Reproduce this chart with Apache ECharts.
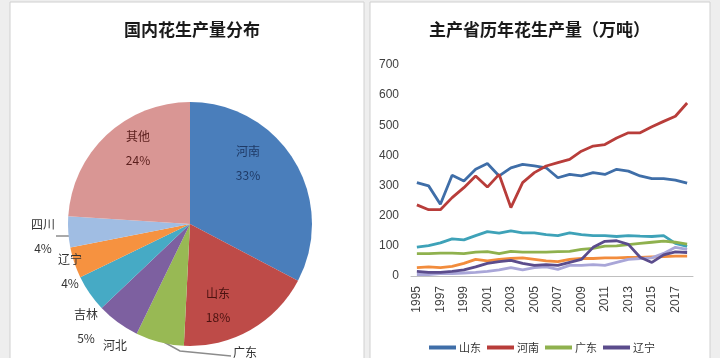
<!DOCTYPE html>
<html>
<head>
<meta charset="utf-8">
<script src="https://cdn.jsdelivr.net/npm/echarts@6/dist/echarts.min.js"></script>
<style>
  html, body { margin: 0; padding: 0; background: #eeeeee; }
  #main { width: 720px; height: 358px; }
</style>
</head>
<body>
<div id="main"></div>
<script>
// 国内花生产量分布（饼图）
const pieNames  = ['河南', '山东', '广东', '河北', '吉林', '辽宁', '四川', '其他'];
const pieValues = [32.7, 18.1, 6.4, 5.7, 4.9, 4.1, 4.1, 24.0];
const pieColors = ['#4a7ebb', '#be4b48', '#98b954', '#7d60a0', '#46aac5', '#f69240', '#a0bde3', '#d99694'];

// 主产省历年花生产量（万吨）
const years = ['1995', '1996', '1997', '1998', '1999', '2000', '2001', '2002', '2003', '2004', '2005', '2006',
               '2007', '2008', '2009', '2010', '2011', '2012', '2013', '2014', '2015', '2016', '2017', '2018'];
const shandong = [310, 299, 238, 334, 315, 354, 373, 332, 359, 370, 365, 359, 326, 337, 332, 343, 337, 354, 348, 332, 323, 323, 318, 308];
const henan    = [236, 220, 220, 260, 293, 332, 295, 337, 227, 310, 343, 365, 376, 387, 414, 431, 436, 458, 475, 475, 495, 513, 530, 574];
const guangdong = [74, 74, 76, 76, 74, 79, 81, 74, 82, 79, 79, 79, 81, 82, 88, 92, 99, 100, 104, 108, 112, 116, 112, 106];
const liaoning = [15, 12, 12, 15, 20, 30, 42, 48, 52, 42, 35, 38, 35, 45, 55, 95, 115, 117, 105, 62, 45, 70, 80, 78];
const hebei    = [96, 101, 110, 123, 120, 134, 147, 142, 150, 143, 143, 137, 134, 143, 137, 134, 134, 131, 134, 132, 131, 134, 108, 98];
const sichuan  = [28, 30, 28, 32, 42, 55, 50, 55, 58, 60, 55, 50, 48, 55, 58, 58, 60, 60, 62, 62, 63, 64, 66, 66];
const jilin    = [5, 5, 8, 8, 10, 12, 15, 20, 28, 20, 28, 30, 22, 35, 35, 38, 35, 45, 55, 58, 60, 75, 95, 88];
const legendNames = ['山东', '河南', '广东', '辽宁'];

const cjk = '"Noto Sans CJK SC", sans-serif';
const num = '"Liberation Sans", Arial, sans-serif';

const chart = echarts.init(document.getElementById('main'));

function lineSeries(name, data, color) {
  return {
    name, type: 'line', data,
    symbol: 'none',
    lineStyle: { width: 2.8, color },
    itemStyle: { color },
  };
}

// 原图饼是椭圆的，标签按原图位置摆放（中心点）
const labelAt = {
  河南: [248, 163], 山东: [218, 305], 其他: [138, 148],
  四川: [43, 236], 辽宁: [70, 271], 吉林: [86, 326], 河北: [115, 357], 广东: [245, 364],
};
const leader = {
  四川: [[74, 236], [65, 236], [56, 236]],
  广东: [[162, 341], [180, 351], [231, 356]],
};
const labelColor = { 河南: '#1f3a66', 山东: '#4a1210', 其他: '#5a1e1c' };

const pieData = pieNames.map((n, i) => ({
  name: n,
  value: pieValues[i],
  itemStyle: { color: pieColors[i] },
  label: { color: labelColor[n] || '#333' },
  labelLine: { show: !!leader[n] },
}));

chart.setOption({
  backgroundColor: '#eeeeee',
  animation: false,
  graphic: [
    { type: 'rect', shape: { x: 10, y: 2, width: 354, height: 370 },
      style: { fill: '#fff', stroke: '#d0d0d0', lineWidth: 1 }, z: -10 },
    { type: 'rect', shape: { x: 370, y: 2, width: 340, height: 370 },
      style: { fill: '#fff', stroke: '#d0d0d0', lineWidth: 1 }, z: -10 },
  ],
  title: [
    { text: '国内花生产量分布', left: 119, top: 16,
      textStyle: { fontFamily: cjk, fontSize: 17, fontWeight: 'bold', color: '#1a1a1a' } },
    { text: '主产省历年花生产量（万吨）', left: 424, top: 16,
      textStyle: { fontFamily: cjk, fontSize: 17, fontWeight: 'bold', color: '#1a1a1a' } },
  ],
  legend: {
    data: legendNames,
    left: 424, top: 337,
    icon: 'rect', itemWidth: 27, itemHeight: 4, itemGap: 6,
    textStyle: { fontFamily: cjk, fontSize: 11, color: '#333', padding: [0, 0, 0, -2] },
  },
  grid: { left: 411, top: 65, width: 282, height: 211 },
  xAxis: {
    type: 'category',
    data: years,
    boundaryGap: true,
    axisLine: { lineStyle: { color: '#bfbfbf' } },
    axisTick: { show: false },
    axisLabel: { interval: 1, rotate: 90, margin: 10, fontFamily: num, fontSize: 12, color: '#404040' },
  },
  yAxis: {
    type: 'value', min: 0, max: 700, interval: 100,
    axisLine: { show: false },
    axisTick: { show: false },
    splitLine: { show: false },
    axisLabel: { margin: 12, fontFamily: num, fontSize: 12, color: '#404040' },
  },
  series: [
    {
      name: '国内花生产量分布',
      type: 'pie',
      center: [190, 224],
      radius: 122,
      startAngle: 90,
      clockwise: true,
      avoidLabelOverlap: false,
      label: {
        position: 'outside',
        formatter: (p) => `${p.name}\n${Math.round(p.percent)}%`,
        fontFamily: cjk, fontSize: 12, lineHeight: 24,
      },
      labelLine: { length: 20, length2: 20, lineStyle: { color: '#8c8c8c', width: 1.5 } },
      labelLayout: (p) => {
        const n = pieNames[p.dataIndex];
        const at = labelAt[n];
        return {
          x: at[0], y: at[1], align: 'center', verticalAlign: 'middle',
          labelLinePoints: leader[n],
        };
      },
      emphasis: { disabled: true },
      data: pieData,
    },
    lineSeries('河北', hebei, '#3ea2b8'),
    lineSeries('四川', sichuan, '#f28c3c'),
    lineSeries('吉林', jilin, '#a9a6d8'),
    lineSeries('广东', guangdong, '#8fb14e'),
    lineSeries('辽宁', liaoning, '#5b4c8c'),
    lineSeries('山东', shandong, '#3f6ea8'),
    lineSeries('河南', henan, '#b83d3a'),
  ],
});
</script>
</body>
</html>
